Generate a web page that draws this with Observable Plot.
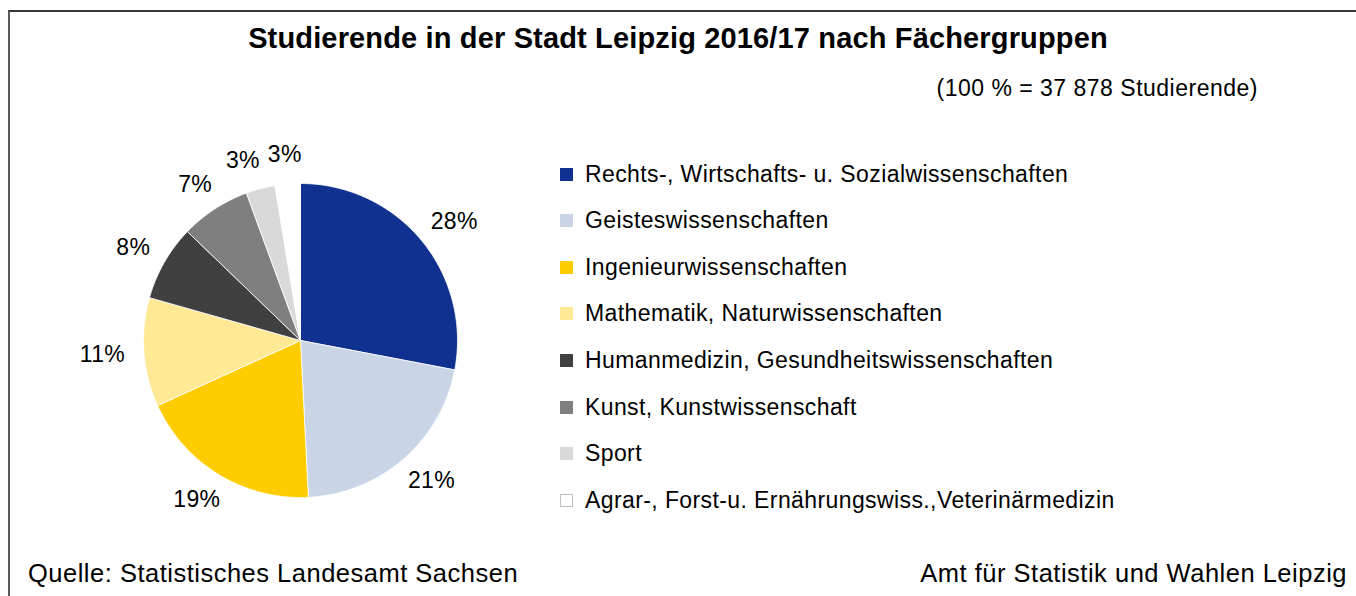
<!DOCTYPE html>
<html>
<head>
<meta charset="utf-8">
<script src="https://cdn.jsdelivr.net/npm/d3@7"></script>
<script src="https://cdn.jsdelivr.net/npm/@observablehq/plot@0.6"></script>
<style>
  html, body { margin: 0; padding: 0; background: #fff; }
  body { font-family: "Liberation Sans", Arial, sans-serif; color: #000; }
  #wrap { position: relative; width: 1356px; height: 596px; overflow: hidden; }
  #frame { position: absolute; left: 8px; top: 10px; width: 1400px; height: 700px;
           border-top: 2px solid #3a3a3a; border-left: 2px solid #5a5a5a; }
  #chart { position: absolute; left: 0; top: 0; }
  #title { position: absolute; left: 0; width: 1356px; top: 22px; text-align: center;
           font-weight: bold; font-size: 29px; line-height: 32.4px; letter-spacing: 0.15px; white-space: nowrap; }
  #subtitle { position: absolute; right: 98px; top: 76px; font-size: 23px; line-height: 25.7px; letter-spacing: 0.5px; white-space: nowrap; }
  #legend { position: absolute; left: 560px; top: 151px; }
  .row { display: flex; align-items: center; height: 46.57px; font-size: 23px; letter-spacing: 0.4px; white-space: nowrap; }
  .sw { width: 13px; height: 13px; margin-right: 12px; box-sizing: border-box; }
  #src { position: absolute; left: 28px; top: 559px; font-size: 25.5px; line-height: 28.5px; letter-spacing: 0.5px; white-space: nowrap; }
  #org { position: absolute; right: 9px; top: 559px; font-size: 25.5px; line-height: 28.5px; letter-spacing: 0.5px; white-space: nowrap; }
</style>
</head>
<body>
<div id="wrap">
  <div id="frame"></div>
  <div id="chart"></div>
  <div id="title"></div>
  <div id="subtitle"></div>
  <div id="legend"></div>
  <div id="src"></div>
  <div id="org"></div>
</div>
<script>
// ---- data ----
const categories = [
  "Rechts-, Wirtschafts- u. Sozialwissenschaften",
  "Geisteswissenschaften",
  "Ingenieurwissenschaften",
  "Mathematik, Naturwissenschaften",
  "Humanmedizin, Gesundheitswissenschaften",
  "Kunst, Kunstwissenschaft",
  "Sport",
  "Agrar-, Forst-u. Ernährungswiss.,Veterinärmedizin"
];
const shares = [28.0, 21.2, 19.0, 11.2, 7.8, 7.2, 3.0, 2.6];
const colors = ["#10318f", "#c9d4e6", "#ffcc00", "#ffe994", "#404040", "#7f7f7f", "#d9d9d9", "#ffffff"];
const titleText = "Studierende in der Stadt Leipzig 2016/17 nach Fächergruppen";
const subtitleText = "(100 % = 37 878 Studierende)";
const sourceText = "Quelle: Statistisches Landesamt Sachsen";
const orgText = "Amt für Statistik und Wahlen Leipzig";

// ---- geometry helpers ----
const R = 157;           // pie radius in px (matches x/y ranges below)
const labelFont = 23;
const labelSpacing = 0.3;
const labelGap = 19;
const ctx = document.createElement("canvas").getContext("2d");
ctx.font = labelFont + "px 'Liberation Sans', Arial, sans-serif";

const total = d3.sum(shares);
let cum = 0;
const slicePts = [];
const labels = [];
categories.forEach((c, i) => {
  const a0 = cum / total * 2 * Math.PI;
  cum += shares[i];
  const a1 = cum / total * 2 * Math.PI;
  const steps = Math.max(2, Math.ceil((a1 - a0) / 0.01));
  slicePts.push({cat: c, x: 0, y: 0});
  for (let k = 0; k <= steps; k++) {
    const a = a0 + (a1 - a0) * k / steps;
    slicePts.push({cat: c, x: Math.sin(a), y: Math.cos(a)});
  }
  slicePts.push({cat: c, x: 0, y: 0});
  const am = (a0 + a1) / 2;
  const ux = Math.sin(am), uy = Math.cos(am);
  const text = Math.round(shares[i]) + "%";
  const w = ctx.measureText(text).width + text.length * labelSpacing;
  const h = labelFont * 0.9;
  // outside-end placement, in pixel offsets from the centre
  const px = (R + labelGap) * ux + (w / 2) * ux;
  const py = (R + labelGap) * uy + (h / 2) * uy;
  labels.push({cat: c, px, py, w, h, text});
});
// simple collision avoidance: push earlier label leftwards if it overlaps the next one
for (let i = labels.length - 2; i >= 0; i--) {
  const a = labels[i], b = labels[i + 1];
  const overlapY = Math.abs(a.py - b.py) < (a.h + b.h) / 2;
  const overlapX = (a.px + a.w / 2 + 8) - (b.px - b.w / 2);
  if (overlapY && overlapX > 0 && a.px < 0) a.px -= overlapX;
}
labels.forEach(l => { l.x = l.px / R; l.y = l.py / R; });

const chart = Plot.plot({
  width: 1356,
  height: 596,
  margin: 0,
  x: {domain: [-1, 1], range: [300 - R, 300 + R], axis: null},
  y: {domain: [-1, 1], range: [340 + R, 340 - R], axis: null},
  color: {domain: categories, range: colors},
  style: {background: "transparent", fontFamily: "Liberation Sans, Arial, sans-serif"},
  marks: [
    Plot.line(slicePts, {x: "x", y: "y", z: "cat", fill: "cat", stroke: "#ffffff", strokeWidth: 0.8, curve: "linear"}),
    Plot.text(labels, {x: "x", y: "y", text: "text", fontSize: labelFont, fill: "#000", textAnchor: "middle", lineAnchor: "middle"})
  ]
});
chart.querySelectorAll("text").forEach(t => t.setAttribute("letter-spacing", labelSpacing));
document.getElementById("chart").appendChild(chart);

document.getElementById("title").textContent = titleText;
document.getElementById("subtitle").textContent = subtitleText;
document.getElementById("src").textContent = sourceText;
document.getElementById("org").textContent = orgText;

const legend = document.getElementById("legend");
categories.forEach((c, i) => {
  const row = document.createElement("div");
  row.className = "row";
  const sw = document.createElement("div");
  sw.className = "sw";
  sw.style.background = colors[i];
  if (colors[i] === "#ffffff") sw.style.border = "1px solid #bfbfbf";
  const t = document.createElement("span");
  t.textContent = c;
  row.appendChild(sw);
  row.appendChild(t);
  legend.appendChild(row);
});
</script>
</body>
</html>
